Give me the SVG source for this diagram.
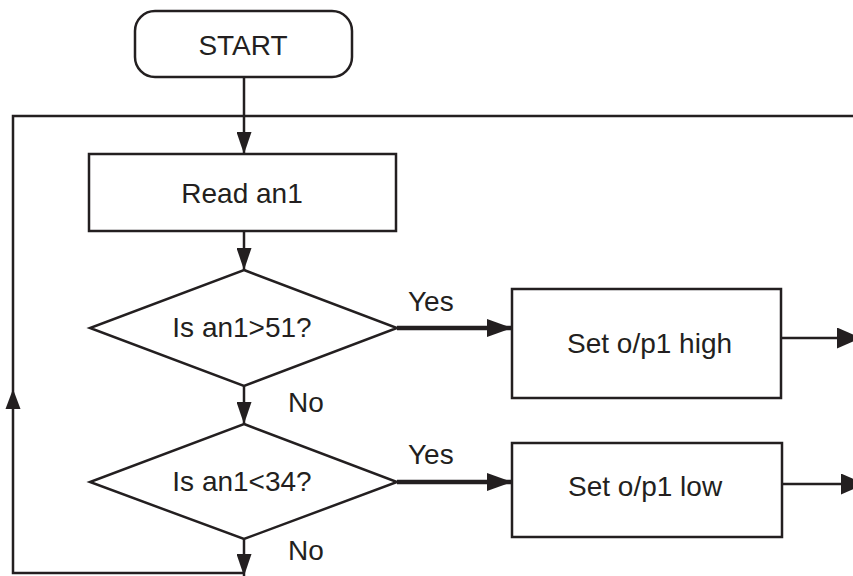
<svg xmlns="http://www.w3.org/2000/svg" width="853" height="576" viewBox="0 0 853 576">
<style>
.box{fill:#fff;stroke:#231f20;stroke-width:2.5}
.ln{fill:none;stroke:#231f20;stroke-width:2.5}
.thick{fill:none;stroke:#231f20;stroke-width:4.5}
.t{font-family:"Liberation Sans",Arial,sans-serif;font-size:28px;fill:#231f20}
.c{text-anchor:middle}
.ah{fill:#231f20}
</style>
<defs>
<marker id="ad" markerUnits="userSpaceOnUse" markerWidth="22" markerHeight="15" refX="22" refY="7.5" orient="auto" viewBox="0 0 22 15">
<path d="M0,0 L22,7.5 L0,15 z" fill="#231f20"/>
</marker>
<marker id="ay" markerUnits="userSpaceOnUse" markerWidth="25" markerHeight="18" refX="25" refY="9" orient="auto" viewBox="0 0 25 18">
<path d="M0,0 L25,9 L0,18 z" fill="#231f20"/>
</marker>
<marker id="ao" markerUnits="userSpaceOnUse" markerWidth="24" markerHeight="21" refX="24" refY="10.5" orient="auto" viewBox="0 0 24 21">
<path d="M0,0 L24,10.5 L0,21 z" fill="#231f20"/>
</marker>
</defs>
<g id="connectors">
<path class="ln" d="M244,573 H13 V116 H853"/>
<polygon class="ah" points="13,389 20.5,409 5.5,409"/>
<path class="ln" d="M244,77 V154" marker-end="url(#ad)"/>
<path class="ln" d="M244,231 V270" marker-end="url(#ad)"/>
<path class="ln" d="M244,386 V424" marker-end="url(#ad)"/>
<path class="ln" d="M244,539 V576" marker-end="url(#ad)"/>
<path class="thick" d="M397,328 H512" marker-end="url(#ay)"/>
<path class="thick" d="M397,482 H512" marker-end="url(#ay)"/>
<path class="ln" d="M781,338 H861" marker-end="url(#ao)"/>
<path class="ln" d="M782,484 H865" marker-end="url(#ao)"/>
<text class="t" x="408" y="311">Yes</text>
<text class="t" x="408" y="464">Yes</text>
<text class="t" x="288" y="412">No</text>
<text class="t" x="288" y="560">No</text>
</g>
<g id="start">
<rect class="box" x="135" y="11" width="217" height="66" rx="20" ry="20"/>
<text class="t c" x="243" y="55">START</text>
</g>
<g id="read">
<rect class="box" x="89" y="154" width="307" height="77"/>
<text class="t c" x="242" y="203">Read an1</text>
</g>
<g id="dec1">
<polygon class="box" points="244,270 397,328 244,386 90,328"/>
<text class="t c" x="242" y="337">Is an1&gt;51?</text>
</g>
<g id="dec2">
<polygon class="box" points="244,424 397,482 244,539 90,482"/>
<text class="t c" x="242" y="491">Is an1&lt;34?</text>
</g>
<g id="high">
<rect class="box" x="512" y="289" width="269" height="109"/>
<text class="t" x="567" y="353">Set o/p1 high</text>
</g>
<g id="low">
<rect class="box" x="512" y="443" width="270" height="94"/>
<text class="t" x="568" y="496">Set o/p1 low</text>
</g>
</svg>
